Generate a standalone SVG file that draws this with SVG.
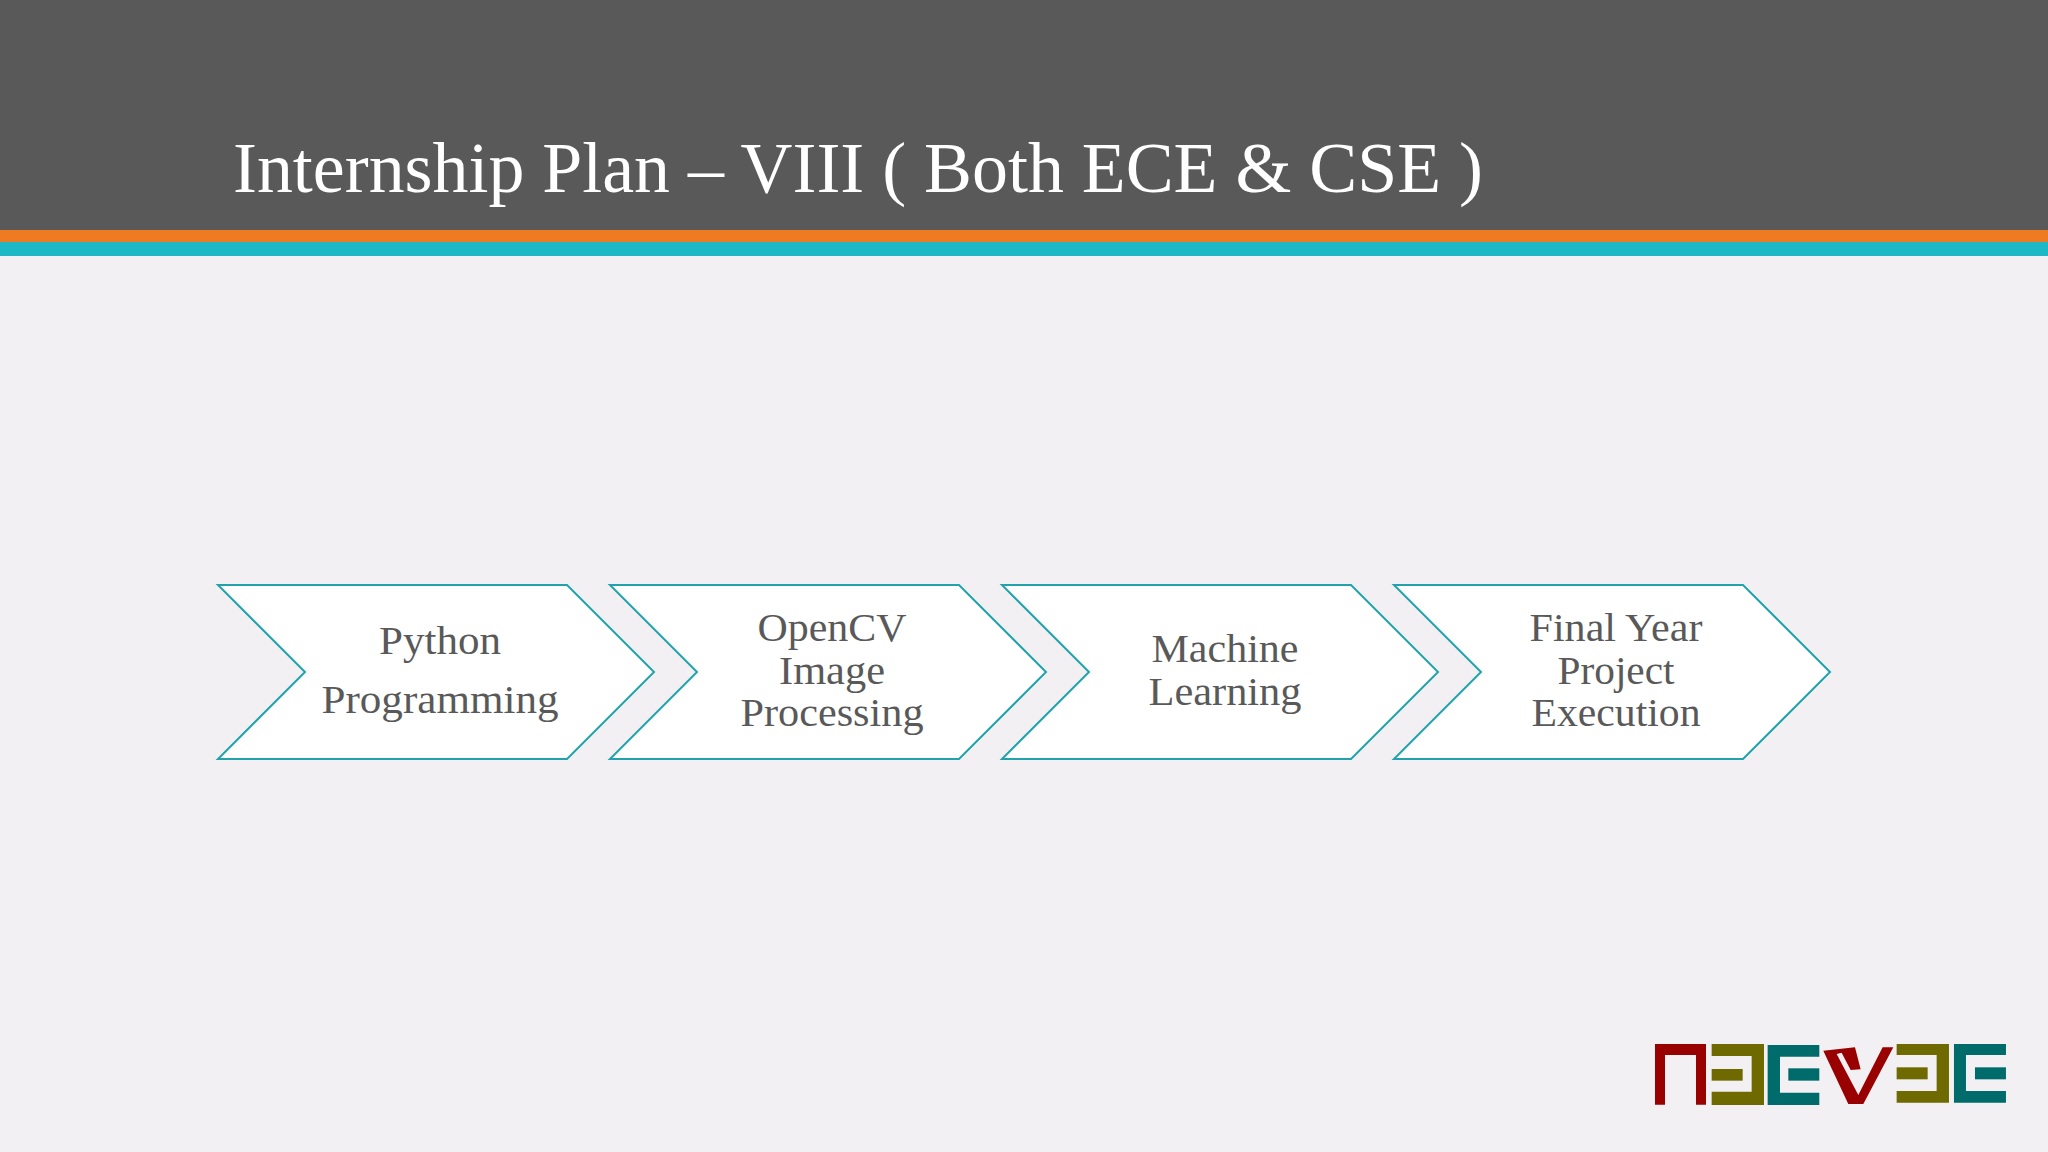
<svg xmlns="http://www.w3.org/2000/svg" width="2048" height="1152" viewBox="0 0 2048 1152">
<style>
.chev{fill:#fff;stroke:#22a3ab;stroke-width:2}
.lbl{font-family:"Liberation Serif",serif;font-size:41px;fill:#595959;text-anchor:middle}
.r{fill:#990000}.o{fill:#6e6a00}.t{fill:#006b6b}
</style>
<defs><polygon id="chevron" points="218,585 567,585 654,672 567,759 218,759 305,672"/></defs>
<rect width="2048" height="1152" fill="#f2f0f3"/>
<rect width="2048" height="230" fill="#595959"/>
<rect y="230" width="2048" height="12" fill="#ee7b22"/>
<rect y="242" width="2048" height="14" fill="#1cb8c6"/>
<text x="233" y="192" font-family="'Liberation Serif',serif" font-size="72" fill="#fff" textLength="1250" lengthAdjust="spacingAndGlyphs">Internship Plan – VIII ( Both ECE &amp; CSE )</text>
<g id="connectors"/>
<g id="node1"><use href="#chevron" class="chev"/>
<text class="lbl" x="440" y="654" textLength="122" lengthAdjust="spacingAndGlyphs">Python</text>
<text class="lbl" x="440" y="713" textLength="237" lengthAdjust="spacingAndGlyphs">Programming</text></g>
<g id="node2"><use href="#chevron" x="392" class="chev"/>
<text class="lbl" x="832" y="641" textLength="149" lengthAdjust="spacingAndGlyphs">OpenCV</text>
<text class="lbl" x="832" y="684" textLength="106" lengthAdjust="spacingAndGlyphs">Image</text>
<text class="lbl" x="832" y="726" textLength="183" lengthAdjust="spacingAndGlyphs">Processing</text></g>
<g id="node3"><use href="#chevron" x="784" class="chev"/>
<text class="lbl" x="1225" y="662" textLength="147" lengthAdjust="spacingAndGlyphs">Machine</text>
<text class="lbl" x="1225" y="705" textLength="153" lengthAdjust="spacingAndGlyphs">Learning</text></g>
<g id="node4"><use href="#chevron" x="1176" class="chev"/>
<text class="lbl" x="1616" y="641" textLength="173" lengthAdjust="spacingAndGlyphs">Final Year</text>
<text class="lbl" x="1616" y="684" textLength="117" lengthAdjust="spacingAndGlyphs">Project</text>
<text class="lbl" x="1616" y="726" textLength="169" lengthAdjust="spacingAndGlyphs">Execution</text></g>
<g id="logo" transform="translate(1630 1020) scale(0.3333)">
<path class="r" d="M75 72H228V254H198V105H105V254H75Z"/>
<path class="o" d="M245 72H402V255H245V215H365V108H245Z"/><rect class="o" x="245" y="147" width="93" height="35"/>
<path class="t" d="M413 75H568V110H450V218H568V255H413Z"/><rect class="t" x="475" y="145" width="93" height="37"/>
<path class="r" d="M580 92L675 82L692 148L662 150L635 98L620 102L685 225L758 82H790L700 252H655Z"/>
<path class="o" d="M800 72H957V248H800V213H920V105H800Z"/><rect class="o" x="800" y="142" width="93" height="36"/>
<path class="t" d="M972 72H1128V105H1008V213H1128V248H972Z"/><rect class="t" x="1035" y="142" width="93" height="36"/>
</g>
</svg>
